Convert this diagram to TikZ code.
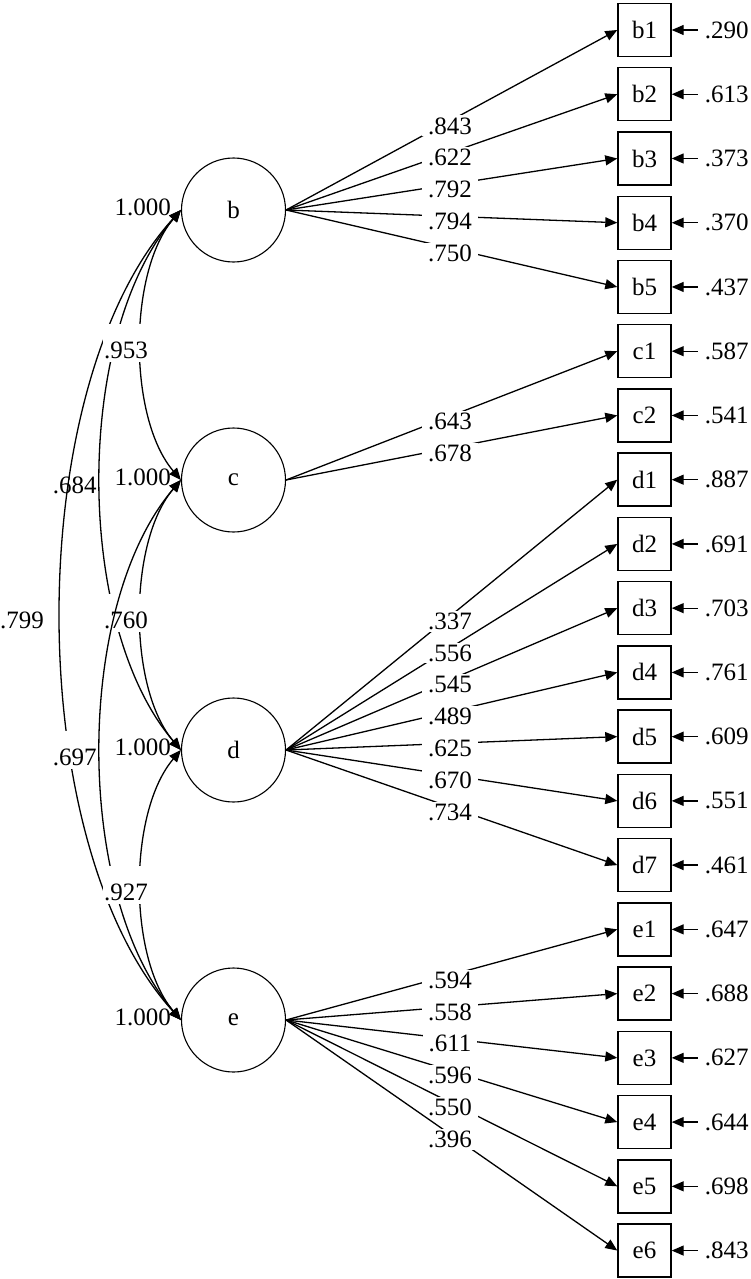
\documentclass[tikz,border=0pt]{standalone}
\usepackage{fontspec}
\setmainfont{Liberation Serif}
\usetikzlibrary{arrows.meta,calc}
\begin{document}
\begin{tikzpicture}[x=1pt,y=-1pt,
  every node/.style={font=\fontsize{25}{30}\selectfont},
  latent/.style={circle,draw,line width=1.1pt,minimum size=104pt,inner sep=0pt},
  obs/.style={rectangle,draw,line width=1.4pt,minimum width=53pt,minimum height=53pt,inner sep=0pt},
  tip/.tip={Triangle[length=12pt,width=10pt]},
  load/.style={line width=1.3pt,-tip},
  res/.style={line width=1.3pt,-tip},
  cov/.style={line width=1.3pt,tip-tip},
  llab/.style={fill=white,inner xsep=6pt,inner ysep=2pt,pos=0.495,yshift=-5pt},
  clab/.style={fill=white,inner xsep=1pt,inner ysep=1pt,anchor=base,text height=34pt,text depth=2pt},
  clabnf/.style={inner xsep=1pt,inner ysep=1pt,anchor=base},
  rlab/.style={anchor=west,inner xsep=7pt,inner ysep=0pt},
  vlab/.style={anchor=east,inner sep=0pt},
  obslab/.style={yshift=-2pt}
]
\useasboundingbox (0,0) rectangle (750,1279);

% latent variables
\node[latent] (b) at (233.5,210) {b};
\node[latent] (c) at (233.5,480) {c};
\node[latent] (d) at (233.5,750) {d};
\node[latent] (e) at (233.5,1020) {e};

% variance labels
\foreach \l in {b,c,d,e}
  \node[vlab] (v\l) at ($(\l.west)+(-10,-3)$) {1.000};

% observed variables
\foreach \n/\i in {b1/0,b2/1,b3/2,b4/3,b5/4,c1/5,c2/6,d1/7,d2/8,d3/9,d4/10,d5/11,d6/12,d7/13,e1/14,e2/15,e3/16,e4/17,e5/18,e6/19}
  \node[obs] (\n) at (644.5,{30+64.24*\i}) {\raisebox{-2pt}{\n}};

% loadings
\foreach \l/\t/\v in {b/b1/.843,b/b2/.622,b/b3/.792,b/b4/.794,b/b5/.750,
  c/c1/.643,c/c2/.678,
  d/d1/.337,d/d2/.556,d/d3/.545,d/d4/.489,d/d5/.625,d/d6/.670,d/d7/.734,
  e/e1/.594,e/e2/.558,e/e3/.611,e/e4/.596,e/e5/.550,e/e6/.396}
  \draw[load] (\l.east) -- node[llab] {\v} (\t.west);

% residuals
\foreach \t/\v in {b1/.290,b2/.613,b3/.373,b4/.370,b5/.437,c1/.587,c2/.541,
  d1/.887,d2/.691,d3/.703,d4/.761,d5/.609,d6/.551,d7/.461,
  e1/.647,e2/.688,e3/.627,e4/.644,e5/.698,e6/.843}{
  \node[rlab] (r\t) at ($(\t.east)+(26,0)$) {\v};
  \draw[res] (r\t.west) -- (\t.east);
}

% covariances
\draw[cov] (b.west) .. controls +(-53,62) and +(-53,-62) .. coordinate[pos=0.5] (mbc) (c.west);
\draw[cov] (c.west) .. controls +(-53,62) and +(-53,-62) .. coordinate[pos=0.5] (mcd) (d.west);
\draw[cov] (d.west) .. controls +(-53,62) and +(-53,-62) .. coordinate[pos=0.5] (mde) (e.west);
\draw[cov] (b.west) .. controls +(-107,125) and +(-107,-125) .. coordinate[pos=0.5] (mbd) (d.west);
\draw[cov] (b.west) .. controls +(-160,176) and +(-160,-176) .. coordinate[pos=0.5] (mbe) (e.west);

\node[clab] (lbc) at ($(mbc)+(-15.25,13.75)$) {.953};
\node[clab] (lcd) at ($(mcd)+(-15.25,13.75)$) {.760};

\draw[cov] (c.west) .. controls +(-107,125) and +(-107,-125) .. coordinate[pos=0.5] (mce) (e.west);

\node[clab] (lde) at ($(mde)+(-15.25,15.75)$) {.927};
\node[clab] (lce) at ($(mce)+(-26,15.75)$) {.697};
\node[clab] (lbe) at ($(mbe)+(-39,13.75)$) {.799};
\node[clabnf] (lbd) at ($(mbd)+(-26,13.75)$) {.684};
\end{tikzpicture}
\end{document}
